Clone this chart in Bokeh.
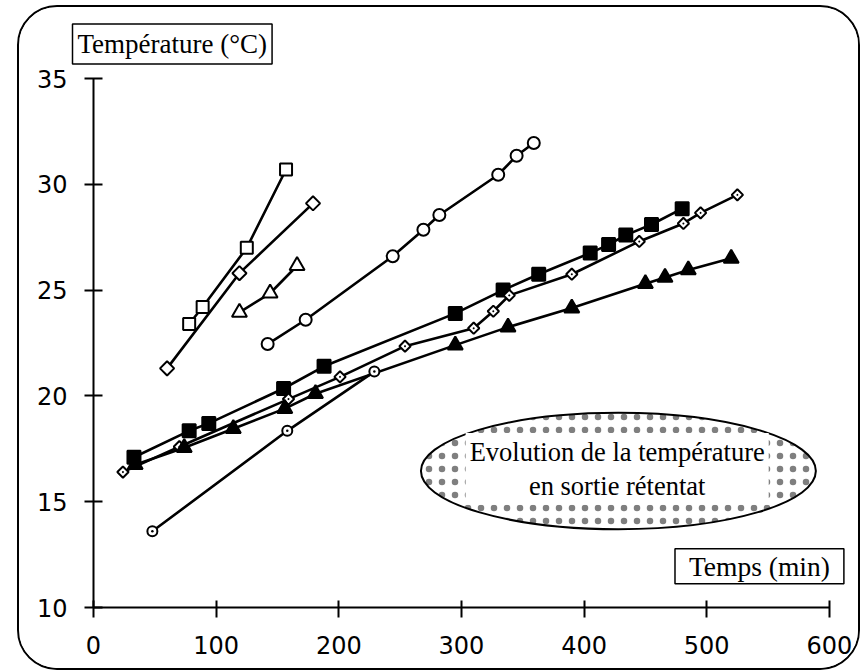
import math
from bokeh.plotting import figure
from bokeh.models import Range1d, FixedTicker, Label
from bokeh.embed import file_html
from bokeh.resources import INLINE

# ---- data ----
x_ticks = [0, 100, 200, 300, 400, 500, 600]
y_ticks = [10, 15, 20, 25, 30, 35]

open_sq_t = [78, 89, 125, 157]
open_sq_v = [23.4, 24.2, 27.0, 30.7]

open_dia_t = [60, 119, 179]
open_dia_v = [21.3, 25.8, 29.1]

open_tri_t = [119, 144, 166]
open_tri_v = [23.95, 24.85, 26.15]

open_circ_t = [142, 173, 244, 269, 282, 330, 345, 359]
open_circ_v = [22.45, 23.6, 26.6, 27.85, 28.55, 30.45, 31.35, 31.95]

filled_sq_t = [33, 78, 94, 155, 188, 295, 334, 363, 405, 420, 434, 455, 480]
filled_sq_v = [17.1, 18.35, 18.7, 20.35, 21.4, 23.9, 25.0, 25.75, 26.75, 27.15, 27.6, 28.1, 28.85]

dot_dia_t = [24, 70, 159, 201, 254, 310, 326, 339, 390, 445, 481, 495, 525]
dot_dia_v = [16.4, 17.6, 19.85, 20.9, 22.35, 23.2, 24.0, 24.75, 25.75, 27.3, 28.15, 28.65, 29.5]

filled_tri_t = [34, 74, 114, 156, 181, 295, 338, 390, 450, 466, 485, 520]
filled_tri_v = [16.75, 17.55, 18.45, 19.4, 20.1, 22.4, 23.25, 24.15, 25.3, 25.6, 25.95, 26.5]

dot_circ_t = [48, 158, 229]
dot_circ_v = [13.6, 18.35, 21.15]

y_label = "Température (°C)"
x_label = "Temps (min)"
note = "Evolution de la température\nen sortie rétentat"

SERIF = "Liberation Serif"
SANS = "DejaVu Sans"

W, H = 839, 661
LEFT, TOP, BOTTOM, RIGHT = 74, 69, 65, 4
px_per_unit = 732 / 600.0
x_end = (W - LEFT - RIGHT) / px_per_unit

p = figure(width=W, height=H, x_range=Range1d(0, x_end), y_range=Range1d(10, 35),
           output_backend="svg", toolbar_location=None,
           min_border_left=LEFT, min_border_right=RIGHT, min_border_top=TOP,
           min_border_bottom=BOTTOM, title=y_label)
# rounded frame around the whole chart
p.styles = {"border": "2px solid black", "border-radius": "40px",
            "box-sizing": "content-box", "overflow": "hidden",
            "margin-left": "17px", "margin-top": "5px"}
p.outline_line_color = None
p.grid.visible = False
p.background_fill_color = "white"
p.border_fill_color = "white"

# y-axis caption drawn as the (boxed) title above the frame
p.title.text_font = SERIF
p.title.text_font_size = "27px"
p.title.text_font_style = "normal"
p.title.text_color = "black"
p.title.align = "left"
p.title.offset = -21
p.title.standoff = 29
p.title.border_line_color = "black"
p.title.border_line_width = 1.5
p.title.background_fill_color = "white"
p.title.padding = 5

for ax, ticks in ((p.xaxis, x_ticks), (p.yaxis, y_ticks)):
    ax.ticker = FixedTicker(ticks=ticks)
    ax.axis_line_width = 2
    ax.axis_line_color = "black"
    ax.major_tick_line_width = 2
    ax.major_tick_line_color = "black"
    ax.minor_tick_line_color = None
    ax.major_label_text_font = SANS
    ax.major_label_text_font_size = "24px"
    ax.major_label_text_color = "black"

p.xaxis.bounds = (0, 600)
p.xaxis.major_tick_in = 7
p.xaxis.major_tick_out = 10
p.xaxis.major_label_standoff = 18
p.yaxis.major_tick_in = 9
p.yaxis.major_tick_out = 9
p.yaxis.major_label_standoff = 17

# annotation ellipse with dotted fill
p.ellipse(x=[428], y=[16.45], width=[322], height=[5.5], fill_color="white",
          line_color="black", line_width=2, hatch_pattern="dot", hatch_color="black",
          hatch_scale=13, hatch_weight=0.5, hatch_alpha=0.5)

LW = 2.6
series = [
    (open_sq_t, open_sq_v, "square", 12, "white", 0),
    (open_dia_t, open_dia_v, "square", 10, "white", math.pi / 4),
    (open_tri_t, open_tri_v, "triangle", 15, "white", 0),
    (open_circ_t, open_circ_v, "circle", 12, "white", 0),
    (filled_sq_t, filled_sq_v, "square", 13, "black", 0),
    (dot_dia_t, dot_dia_v, "square_dot", 8, "white", math.pi / 4),
    (filled_tri_t, filled_tri_v, "triangle", 15, "black", 0),
    (dot_circ_t, dot_circ_v, "circle_dot", 10, "white", 0),
]
for t, v, marker, size, fill, ang in series:
    p.line(t, v, line_color="black", line_width=LW)
for t, v, marker, size, fill, ang in series:
    p.scatter(t, v, marker=marker, size=size, fill_color=fill, line_color="black",
              line_width=2, angle=ang)

p.add_layout(Label(x=427, y=16.55, text=note, text_align="center", text_baseline="middle",
                   text_font=SERIF, text_font_size="26.5px", text_color="black",
                   text_line_height=1.12, background_fill_color="white", padding=4))

p.add_layout(Label(x=543, y=11.95, text=x_label, text_align="center", text_baseline="middle",
                   text_font=SERIF, text_font_size="27.5px", text_color="black",
                   background_fill_color="white", border_line_color="black",
                   border_line_width=1.5, padding=(14, 2)))

open("out.html", "w").write(file_html(p, INLINE))
